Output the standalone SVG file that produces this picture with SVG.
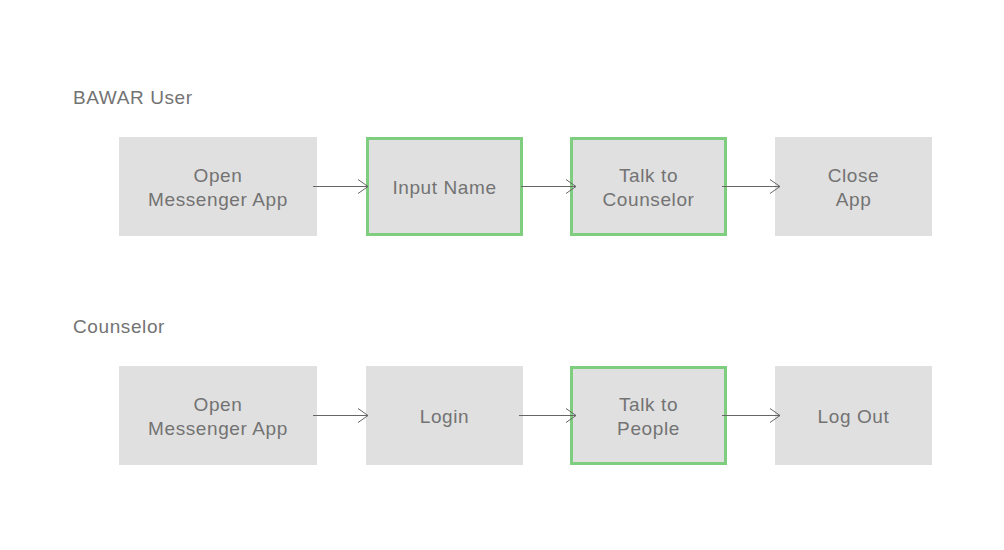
<svg xmlns="http://www.w3.org/2000/svg" width="1004" height="550" viewBox="0 0 1004 550">
<defs>
<style>
.box{fill:#e0e0e0;}
.hl{fill:#e0e0e0;stroke:#7fcd7f;stroke-width:3;}
.t{font-family:"Liberation Sans",Arial,sans-serif;font-size:19px;letter-spacing:0.6px;fill:#737373;text-anchor:middle;}
.lbl{font-family:"Liberation Sans",Arial,sans-serif;font-size:19px;letter-spacing:0.6px;fill:#737373;}
.c{stroke:#666;stroke-width:1;fill:none;}
</style>
<marker id="ah" markerWidth="12" markerHeight="16" refX="11" refY="8" orient="auto" markerUnits="userSpaceOnUse">
<path d="M1,1 L11,8 L1,15" fill="none" stroke="#666" stroke-width="1"/>
</marker>
</defs>
<rect width="1004" height="550" fill="#fff"/>
<text class="lbl" x="73" y="104">BAWAR User</text>
<text class="lbl" x="73" y="333">Counselor</text>
<g id="u1"><rect class="box" x="119" y="137" width="198" height="99"/><text class="t" x="218" y="182">Open</text><text class="t" x="218" y="206">Messenger App</text></g>
<g id="u2"><rect class="hl" x="367.5" y="138.5" width="154" height="96"/><text class="t" x="444.5" y="194">Input Name</text></g>
<g id="u3"><rect class="hl" x="571.5" y="138.5" width="154" height="96"/><text class="t" x="648.5" y="182">Talk to</text><text class="t" x="648.5" y="206">Counselor</text></g>
<g id="u4"><rect class="box" x="775" y="137" width="157" height="99"/><text class="t" x="853.5" y="182">Close</text><text class="t" x="853.5" y="206">App</text></g>
<g id="c1"><rect class="box" x="119" y="366" width="198" height="99"/><text class="t" x="218" y="411">Open</text><text class="t" x="218" y="435">Messenger App</text></g>
<g id="c2"><rect class="box" x="366" y="366" width="157" height="99"/><text class="t" x="444.5" y="423">Login</text></g>
<g id="c3"><rect class="hl" x="571.5" y="367.5" width="154" height="96"/><text class="t" x="648.5" y="411">Talk to</text><text class="t" x="648.5" y="435">People</text></g>
<g id="c4"><rect class="box" x="775" y="366" width="157" height="99"/><text class="t" x="853.5" y="423">Log Out</text></g>
<g id="connectors">
<line class="c" x1="313" y1="186.5" x2="368" y2="186.5" marker-end="url(#ah)"/>
<line class="c" x1="521" y1="186.5" x2="576" y2="186.5" marker-end="url(#ah)"/>
<line class="c" x1="722" y1="186.5" x2="780" y2="186.5" marker-end="url(#ah)"/>
<line class="c" x1="313" y1="415.5" x2="368" y2="415.5" marker-end="url(#ah)"/>
<line class="c" x1="519" y1="415.5" x2="576" y2="415.5" marker-end="url(#ah)"/>
<line class="c" x1="722" y1="415.5" x2="780" y2="415.5" marker-end="url(#ah)"/>
</g>
</svg>
